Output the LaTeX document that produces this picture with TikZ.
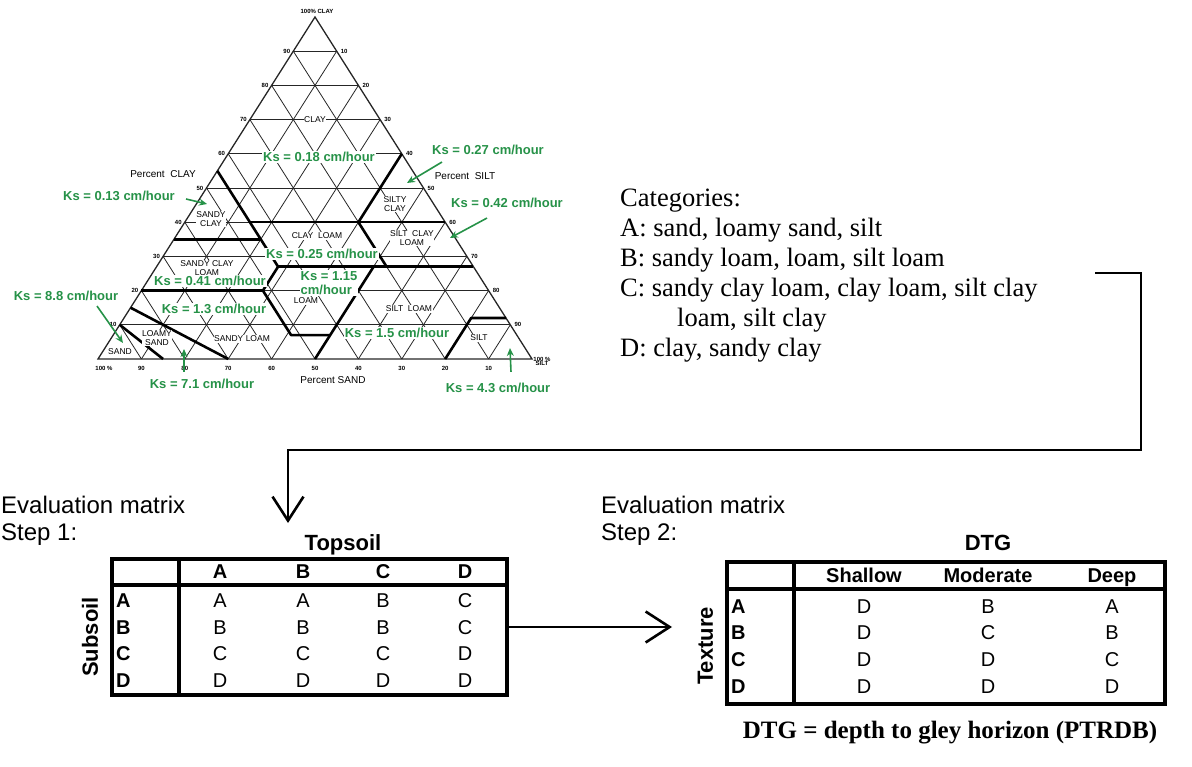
\documentclass[tikz,border=0pt]{standalone}
\usepackage{fontspec}
\setmainfont{Liberation Serif}
\newfontfamily\arial{Liberation Sans}
\usetikzlibrary{arrows.meta}
\definecolor{ksgreen}{RGB}{38,146,72}

\tikzset{
  soilgrid/.style={line width=0.8pt, black!85},
  classline/.style={line width=2.6pt, line join=round},
  cls/.style={font=\arial\fontsize{8.5}{9}\selectfont, fill=white, inner sep=0.6pt, align=center},
  ticklbl/.style={font=\arial\bfseries\fontsize{6}{6}\selectfont, inner sep=1pt},
  axlbl/.style={font=\arial\fontsize{10}{10}\selectfont, inner sep=1pt},
  ks/.style={font=\arial\bfseries\fontsize{13}{14}\selectfont, text=ksgreen, fill=white, inner sep=1pt},
  ksarrow/.style={ksgreen, line width=1.6pt, -{Stealth[length=8pt,width=7pt]}},
  flow/.style={line width=2.6pt, -{Straight Barb[length=24pt,width=31pt]}},
  tabframe/.style={line width=3.8pt},
  cell/.style={font=\arial\fontsize{20}{24}\selectfont, inner sep=0pt, text height=14.3pt, text depth=0pt},
  hdr/.style={cell, font=\arial\bfseries\fontsize{20}{24}\selectfont},
  rowlbl/.style={hdr, anchor=west},
  ttl/.style={font=\arial\bfseries\fontsize{22}{26}\selectfont, inner sep=0pt, text height=15.8pt, text depth=0pt},
  evtext/.style={font=\arial\fontsize{24}{27}\selectfont, align=left, inner sep=0pt, anchor=north west},
  cattext/.style={font=\fontsize{26.5}{30}\selectfont, align=left, inner sep=0pt, anchor=north west},
  note/.style={font=\bfseries\fontsize{25}{28}\selectfont, inner sep=0pt}
}

\begin{document}
\begin{tikzpicture}[x=1pt,y=-1pt]
\useasboundingbox (0,0) rectangle (1192,767);

\foreach \k in {10,20,...,90} {
  \draw[soilgrid] ({98+2.17*\k},{359-3.42*\k}) -- ({532-2.17*\k},{359-3.42*\k});
  \draw[soilgrid] ({98+4.34*\k},359) -- ({315+2.17*\k},{17+3.42*\k});
  \draw[soilgrid] ({98+4.34*\k},359) -- ({98+2.17*\k},{359-3.42*\k});
}
\draw[soilgrid, line width=1.3pt] (98,359) -- (315,17) -- (532,359) -- cycle;

\draw[classline] (217.4,170.9) -- (278.1,266.7);
\draw[classline] (174,239.3) -- (260.8,239.3);
\draw[classline] (249.9,222.2) -- (445.2,222.2);
\draw[classline] (401.8,153.8) -- (358.4,222.2) -- (386.6,266.7);
\draw[classline] (278.1,266.7) -- (473.4,266.7);
\draw[classline] (278.1,266.7) -- (262.9,290.6) -- (291.1,335.1) -- (330.2,335.1);
\draw[classline] (141.4,290.6) -- (262.9,290.6);
\draw[classline] (373.6,266.7) -- (315,359);
\draw[classline] (445.2,359) -- (471.2,318) -- (506,318);
\draw[classline] (163.1,359) -- (119.7,324.8);
\draw[classline] (228.2,359) -- (130.6,307.7);

\foreach \k [evaluate=\k as \j using {int(100-\k)}] in {10,20,...,90} {
  \node[ticklbl, anchor=east] (cl\k) at ({96+2.17*\k},{359-3.42*\k}) {\k};
  \node[ticklbl, anchor=west] (si\j) at ({535-2.17*\k},{359-3.42*\k}) {\j};
  \node[ticklbl] (sa\j) at ({98+4.34*\k},368) {\j};
}
\node[ticklbl] (clay100) at (317,11) {100\% CLAY};
\node[ticklbl] (sand100) at (104,368) {100 \%};
\node[ticklbl, align=center] (silt100) at (542,361) {100 \%\\[-2pt]SILT};
\node[axlbl] (pclay) at (163,174) {Percent\ \ CLAY};
\node[axlbl] (psilt) at (465,176) {Percent\ \ SILT};
\node[axlbl] (psand) at (333,380) {Percent SAND};

\node[cls] (clay) at (315,120) {CLAY};
\node[cls] (sandyclay) at (211,219) {SANDY\\CLAY};
\node[cls] (siltyclay) at (395,204) {SILTY\\CLAY};
\node[cls] (clayloam) at (317,236) {CLAY\ \ LOAM};
\node[cls] (siltclayloam) at (412,238) {SILT\ \ CLAY\\LOAM};
\node[cls] (sandyclayloam) at (207,268) {SANDY CLAY\\LOAM};
\node[cls] (loam) at (306,301) {LOAM};
\node[cls] (siltloam) at (409,309) {SILT\ \ LOAM};
\node[cls] (sandyloam) at (242,339) {SANDY LOAM};
\node[cls] (loamysand) at (157,338) {LOAMY\\SAND};
\node[cls] (sand) at (120,352) {SAND};
\node[cls] (silt) at (479,338) {SILT};

\node[ks] (ks18) at (319,157) {Ks = 0.18 cm/hour};
\node[ks] (ks27) at (488,150) {Ks = 0.27 cm/hour};
\node[ks] (ks13) at (119,196) {Ks = 0.13 cm/hour};
\node[ks] (ks42) at (507,203) {Ks = 0.42 cm/hour};
\node[ks] (ks25) at (322,254) {Ks = 0.25 cm/hour};
\node[ks] (ks41) at (210,281) {Ks = 0.41 cm/hour};
\node[ks, align=left] (ks115) at (329,283) {Ks = 1.15\\cm/hour};
\node[ks] (ks88) at (66,296) {Ks = 8.8 cm/hour};
\node[ks] (ks130) at (214,309) {Ks = 1.3 cm/hour};
\node[ks] (ks150) at (397,333) {Ks = 1.5 cm/hour};
\node[ks] (ks71) at (202,384) {Ks = 7.1 cm/hour};
\node[ks] (ks43) at (498,388) {Ks = 4.3 cm/hour};

\coordinate (k27t) at (407,183);
\coordinate (k42t) at (450,238);
\coordinate (k13t) at (207,204);
\coordinate (k88t) at (123,343);
\coordinate (k71t) at (184,349);
\coordinate (k43t) at (510,348);
\draw[ksarrow] ([shift={(11,6)}]ks27.south west) -- (k27t);
\draw[ksarrow] ([shift={(-20,9)}]ks42.south) -- (k42t);
\draw[ksarrow] ([shift={(10,3)}]ks13.east) -- (k13t);
\draw[ksarrow] ([shift={(31,4)}]ks88.south) -- (k88t);
\draw[ksarrow] ([shift={(-18,-6)}]ks71.north) -- (k71t);
\draw[ksarrow] ([shift={(13,-10)}]ks43.north) -- (k43t);

\node[cattext] (cats) at (620,189) {Categories:\\
A: sand, loamy sand, silt\\
B: sandy loam, loam, silt loam\\
C: sandy clay loam, clay loam, silt clay\\
\hspace*{57pt}loam, silt clay\\
D: clay, sandy clay};

\node[evtext] (ev1) at (1,496) {Evaluation matrix\\Step 1:};
\node[evtext] (ev2) at (601,496) {Evaluation matrix\\Step 2:};

\coordinate (catsout) at (1095,273);
\coordinate (tip1) at (288,523);
\draw[flow] (catsout) -| (1141,450) -| (tip1);

\node[tabframe, draw, minimum width=395pt, minimum height=136pt, inner sep=0pt] (mat1) at (309.5,627) {};
\draw[tabframe] (179,559) -- (179,695);
\draw[tabframe] (112,585) -- (507,585);
\node[ttl] (topsoil) at (343,543) {Topsoil};
\node[ttl, rotate=90] (subsoil) at (90,637) {Subsoil};
\foreach \h/\x in {A/220,B/303,C/383,D/465}
  \node[hdr] (h1\h) at (\x,571) {\h};
\foreach \r/\y/\va/\vb/\vc/\vd in {A/600/A/A/B/C, B/627/B/B/B/C, C/653/C/C/C/D, D/680/D/D/D/D} {
  \node[rowlbl] (s1\r) at (116,\y) {\r};
  \node[cell] (c1\r-1) at (220,\y) {\va};
  \node[cell] (c1\r-2) at (303,\y) {\vb};
  \node[cell] (c1\r-3) at (383,\y) {\vc};
  \node[cell] (c1\r-4) at (465,\y) {\vd};
}

\coordinate (tip2) at (672,627);
\draw[flow] (mat1.east) -- (tip2);

\node[tabframe, draw, minimum width=438pt, minimum height=142pt, inner sep=0pt] (mat2) at (946,633) {};
\draw[tabframe] (794,562) -- (794,704);
\draw[tabframe] (727,589) -- (1165,589);
\node[ttl] (dtg) at (988,543) {DTG};
\node[ttl, rotate=90] (texture) at (705,646) {Texture};
\foreach \h/\x in {Shallow/864,Moderate/988,Deep/1112}
  \node[hdr] (h2\h) at (\x,575) {\h};
\foreach \r/\y/\va/\vb/\vc in {A/606/D/B/A, B/632/D/C/B, C/659/D/D/C, D/686/D/D/D} {
  \node[rowlbl] (s2\r) at (731,\y) {\r};
  \node[cell] (c2\r-1) at (864,\y) {\va};
  \node[cell] (c2\r-2) at (988,\y) {\vb};
  \node[cell] (c2\r-3) at (1112,\y) {\vc};
}

\node[note] (dtgnote) at (950,733) {DTG = depth to gley horizon (PTRDB)};
\end{tikzpicture}
\end{document}
